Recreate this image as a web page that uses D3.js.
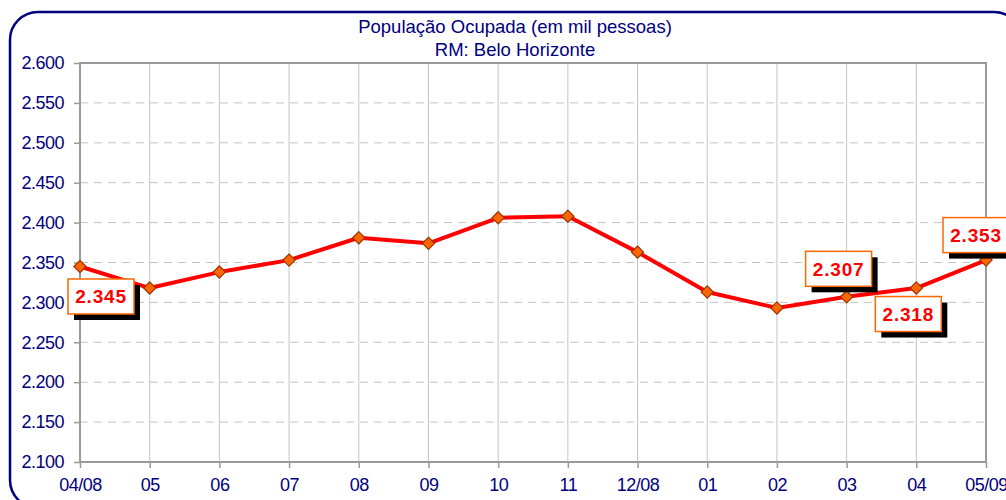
<!DOCTYPE html>
<html>
<head>
<meta charset="utf-8">
<script src="https://cdn.jsdelivr.net/npm/d3@7"></script>
<style>
  html, body { margin: 0; padding: 0; background: #fff; }
  svg { display: block; font-family: "Liberation Sans", Arial, sans-serif; }
</style>
</head>
<body>
<div id="chart"></div>
<script>
//Datos del gráfico
const titleLines = ['População Ocupada (em mil pessoas)', 'RM: Belo Horizonte'];
const months = ['04/08', '05', '06', '07', '08', '09', '10', '11', '12/08', '01', '02', '03', '04', '05/09'];
const ocupados = [2345, 2318, 2338, 2353, 2381, 2374, 2406, 2408, 2363, 2313, 2293, 2307, 2318, 2353];
const yTicks = [2100, 2150, 2200, 2250, 2300, 2350, 2400, 2450, 2500, 2550, 2600];
const labeled = ['04/08', '03', '04', '05/09'];

//Colores
const COLOR_FRAME = '#000080',
COLOR_TEXT = '#000080',
COLOR_LINE = '#FF0000',
COLOR_MARK = '#FF6600',
COLOR_MARK_STROKE = '#993300',
COLOR_GRID = '#c4c4c4',
COLOR_AXIS = '#9a9a9a';

const width = 1006, height = 500;
const margin = {top: 63, right: 20, bottom: 38, left: 80};

const ptFormat = d3.formatLocale({decimal: ',', thousands: '.', grouping: [3], currency: ['R$', '']}).format(',d');

let svg = d3.select('#chart')
    .append('svg')
        .attr('width', width)
        .attr('height', height);

//Marco redondeado
svg.append('rect')
    .attr('x', 10)
    .attr('y', 12)
    .attr('width', 1012)
    .attr('height', 496)
    .attr('rx', 28)
    .attr('fill', 'none')
    .attr('stroke', COLOR_FRAME)
    .attr('stroke-width', 2.5);

//Título
svg.append('text')
    .attr('x', 515)
    .attr('y', 33)
    .attr('text-anchor', 'middle')
    .attr('fill', COLOR_TEXT)
    .style('font-size', '18.5px')
    .selectAll('tspan')
    .data(titleLines)
    .enter()
    .append('tspan')
        .attr('x', 515)
        .attr('dy', function(d, i) { return i == 0 ? 0 : 23; })
        .text(function(d) { return d; });

//Escalas
let x = d3.scalePoint()
    .domain(months)
    .range([margin.left, width - margin.right]);

let y = d3.scaleLinear()
    .domain([2100, 2600])
    .range([height - margin.bottom, margin.top]);

//Rejilla
svg.append('g')
    .selectAll('line')
    .data(months)
    .enter()
    .append('line')
        .attr('x1', function(d) { return x(d); })
        .attr('x2', function(d) { return x(d); })
        .attr('y1', y(2600))
        .attr('y2', y(2100))
        .attr('stroke', COLOR_GRID)
        .attr('stroke-width', 1);

svg.append('g')
    .selectAll('line')
    .data(yTicks.slice(1, -1))
    .enter()
    .append('line')
        .attr('x1', x.range()[0])
        .attr('x2', x.range()[1])
        .attr('y1', function(d) { return y(d); })
        .attr('y2', function(d) { return y(d); })
        .attr('stroke', COLOR_GRID)
        .attr('stroke-dasharray', '8,6')
        .attr('stroke-width', 1);

//Borde del área de gráfico
svg.append('rect')
    .attr('x', x.range()[0])
    .attr('y', y(2600))
    .attr('width', x.range()[1] - x.range()[0])
    .attr('height', y(2100) - y(2600))
    .attr('fill', 'none')
    .attr('stroke', COLOR_AXIS)
    .attr('stroke-width', 2);

//Ejes
let yAxis = d3.axisLeft(y)
    .tickValues(yTicks)
    .tickFormat(ptFormat)
    .tickSize(6)
    .tickPadding(10);

let gy = svg.append('g')
    .attr('transform', 'translate(' + margin.left + ',0)')
    .call(yAxis);

let xAxis = d3.axisBottom(x)
    .tickSize(6)
    .tickPadding(10);

let gx = svg.append('g')
    .attr('transform', 'translate(0,' + (height - margin.bottom) + ')')
    .call(xAxis);

[gx, gy].forEach(function(g) {
    g.select('.domain').remove();
    g.selectAll('.tick line').attr('stroke', COLOR_AXIS).attr('stroke-width', 1.5);
    g.selectAll('.tick text')
        .attr('fill', COLOR_TEXT)
        .style('font-size', '18px')
        .style('font-family', '"Liberation Sans", Arial, sans-serif')
        .style('letter-spacing', '-0.5px');
});

//Línea
let line = d3.line()
    .x(function(d, i) { return x(months[i]); })
    .y(function(d) { return y(d); });

svg.append('path')
    .datum(ocupados)
    .attr('d', line)
    .attr('fill', 'none')
    .attr('stroke', COLOR_LINE)
    .attr('stroke-width', 4)
    .attr('stroke-linejoin', 'round');

//Marcadores
let diamond = d3.symbol().type(d3.symbolDiamond2).size(95);

svg.append('g')
    .selectAll('path')
    .data(ocupados)
    .enter()
    .append('path')
        .attr('d', diamond)
        .attr('transform', function(d, i) { return 'translate(' + x(months[i]) + ',' + y(d) + ')'; })
        .attr('fill', COLOR_MARK)
        .attr('stroke', COLOR_MARK_STROKE)
        .attr('stroke-width', 1.2);

//Etiquetas de datos
const labelOffsets = {'04/08': [21, 30], '03': [-8, -28], '04': [-8, 26], '05/09': [-10, -25]};
let boxW = 66, boxH = 35, shadow = 6;

let labels = svg.append('g')
    .selectAll('g')
    .data(labeled)
    .enter()
    .append('g')
        .attr('transform', function(d) {
            let i = months.indexOf(d);
            let off = labelOffsets[d];
            return 'translate(' + (x(d) + off[0] - boxW / 2) + ',' + (y(ocupados[i]) + off[1] - boxH / 2) + ')';
        });

labels.append('rect')
    .attr('x', shadow)
    .attr('y', shadow)
    .attr('width', boxW)
    .attr('height', boxH)
    .attr('fill', '#000');

labels.append('rect')
    .attr('width', boxW)
    .attr('height', boxH)
    .attr('fill', '#fff')
    .attr('stroke', COLOR_MARK)
    .attr('stroke-width', 1.5);

labels.append('text')
    .attr('x', boxW / 2)
    .attr('y', boxH / 2 + 7)
    .attr('text-anchor', 'middle')
    .attr('fill', COLOR_LINE)
    .style('font-size', '19px')
    .style('font-weight', 'bold')
    .style('letter-spacing', '0.8px')
    .text(function(d) { return ptFormat(ocupados[months.indexOf(d)]); });
</script>
</body>
</html>
